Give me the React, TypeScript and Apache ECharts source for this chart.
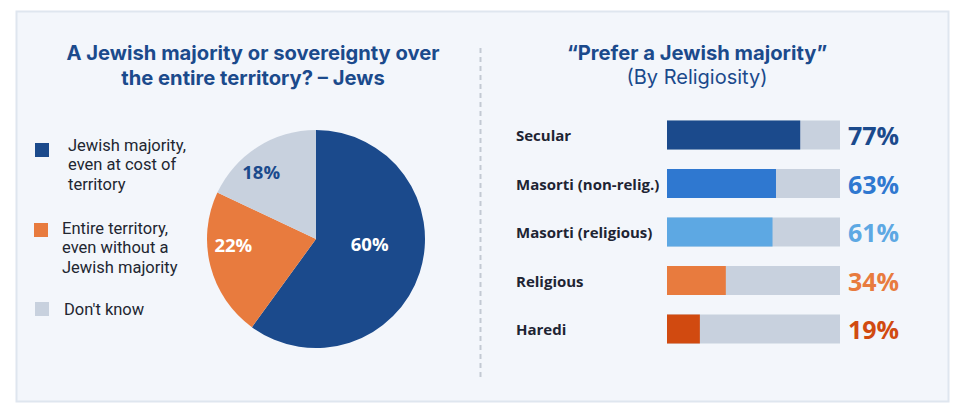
import React, { useEffect, useRef } from "react";
import * as echarts from "echarts";

// ---- data ----
const pieNames = [
  "Jewish majority, even at cost of territory",
  "Entire territory, even without a Jewish majority",
  "Don't know",
];
const pieLegendLines = [
  ["Jewish majority,", "even at cost of", "territory"],
  ["Entire territory,", "even without a", "Jewish majority"],
  ["Don't know"],
];
const pieValues = [60, 22, 18];
const pieColors = ["#1b4a8c", "#e87b3e", "#c8d1de"];
const pieLabelColors = ["#ffffff", "#ffffff", "#1b4a8c"];

const religiosity = [
  "Secular",
  "Masorti (non-relig.)",
  "Masorti (religious)",
  "Religious",
  "Haredi",
];
const preferMajority = [77, 63, 61, 34, 19];
const barColors = ["#1b4a8c", "#2f78d0", "#5da8e3", "#e87b3e", "#d14a10"];
const fullScale = 100;

const FONT = "'Open Sans', Roboto, sans-serif";
const TITLE_FONT = "Inter, 'Open Sans', sans-serif";
const LEGEND_FONT = "Roboto, 'Open Sans', sans-serif";
const TITLE_COLOR = "#1b4a8c";

export default function App() {
  const ref = useRef<HTMLDivElement>(null);

  useEffect(() => {
    if (!ref.current) return;
    const chart = echarts.init(ref.current, undefined, { renderer: "svg" });

    const lh = 19.8;
    const legendSpecs = [
      { left: 35, gap: 2 * lh - 10, padLeft: 14 },
      { left: 34, gap: 2 * lh - 4, padLeft: 9 },
      { left: 35, gap: 0, padLeft: 10 },
    ];
    const iconTops = [143, 223, 302];
    const legends = pieNames.map((name, i) => {
      const spec = legendSpecs[i];
      const lines = pieLegendLines[i];
      const boxH = spec.gap + lines.length * lh;
      const boundTop = Math.min(0, 7 - boxH / 2);
      const body = lines.map((l) => `{t|${l}}`).join("\n");
      return {
        data: [name],
        left: spec.left,
        top: iconTops[i] + boundTop,
        padding: 0,
        orient: "vertical",
        icon: "rect",
        itemWidth: 14,
        itemHeight: 14,
        selectedMode: false,
        formatter: () => (spec.gap > 0 ? `{g| }\n${body}` : body),
        textStyle: {
          fontFamily: LEGEND_FONT,
          fontSize: 16.5,
          color: "#222631",
          lineHeight: lh,
          padding: [0, 0, 0, spec.padLeft],
          rich: {
            g: { fontSize: 4, lineHeight: Math.max(spec.gap, 1) },
            t: {
              fontFamily: LEGEND_FONT,
              fontSize: 16.5,
              color: "#222631",
              lineHeight: lh,
            },
          },
        },
      };
    });

    const labelNudges = [
      { dx: -1, dy: -13 },
      { dx: -27, dy: -9 },
      { dx: -24, dy: -19 },
    ];

    chart.setOption({
      animation: false,
      backgroundColor: "#ffffff",
      textStyle: { fontFamily: FONT },
      graphic: [
        {
          type: "rect",
          shape: { x: 16.5, y: 11.5, width: 932, height: 390 },
          style: { fill: "#f3f6fb", stroke: "#dfe6ef", lineWidth: 2 },
          z: -10,
          silent: true,
        },
        {
          type: "line",
          shape: { x1: 480.5, y1: 48, x2: 480.5, y2: 378 },
          style: { stroke: "#c3c9d3", lineWidth: 2, lineDash: [5, 4] },
          z: -5,
          silent: true,
        },
      ],
      title: [
        {
          text: "A Jewish majority or sovereignty over\nthe entire territory? – Jews",
          left: 253,
          top: 39.5,
          padding: 0,
          textAlign: "center",
          textStyle: {
            fontFamily: TITLE_FONT,
            fontSize: 20.2,
            fontWeight: "bold",
            color: TITLE_COLOR,
            lineHeight: 25,
          },
        },
        {
          text: "“Prefer a Jewish majority”",
          subtext: "(By Religiosity)",
          left: 697,
          top: 39.5,
          padding: 0,
          itemGap: 0,
          textAlign: "center",
          textStyle: {
            fontFamily: TITLE_FONT,
            fontSize: 20.2,
            fontWeight: "bold",
            color: TITLE_COLOR,
            lineHeight: 25,
          },
          subtextStyle: {
            fontFamily: TITLE_FONT,
            fontSize: 20,
            fontWeight: "normal",
            color: TITLE_COLOR,
            lineHeight: 25,
          },
        },
      ],
      legend: legends,
      grid: {
        left: 667,
        top: 110.75,
        width: 173,
        height: 242.5,
        containLabel: false,
      },
      xAxis: {
        type: "value",
        min: 0,
        max: fullScale,
        show: false,
      },
      yAxis: {
        type: "category",
        data: religiosity,
        inverse: true,
        axisLine: { show: false },
        axisTick: { show: false },
        splitLine: { show: false },
        axisLabel: {
          align: "left",
          margin: 151,
          fontFamily: FONT,
          fontSize: 15,
          fontWeight: "bold",
          color: "#1e2433",
        },
      },
      series: [
        {
          type: "pie",
          center: [316, 239],
          radius: 109,
          startAngle: 90,
          clockwise: true,
          silent: true,
          data: pieNames.map((name, i) => ({
            name,
            value: pieValues[i],
            itemStyle: { color: pieColors[i] },
            label: { color: pieLabelColors[i] },
          })),
          label: {
            show: true,
            position: "inside",
            formatter: (p: any) => `${p.value}%`,
            fontFamily: FONT,
            fontSize: 18.5,
            fontWeight: "bold",
          },
          labelLine: { show: false },
          labelLayout: (p: any) => labelNudges[p.dataIndex],
        },
        {
          type: "bar",
          barWidth: 29,
          barGap: "-100%",
          silent: true,
          data: religiosity.map((_, i) => ({
            value: fullScale,
            label: { color: barColors[i] },
          })),
          itemStyle: { color: "#c8d1de" },
          label: {
            show: true,
            position: "right",
            distance: 8,
            formatter: (p: any) => `${preferMajority[p.dataIndex]}%`,
            fontFamily: FONT,
            fontSize: 25,
            fontWeight: "bold",
          },
        },
        {
          type: "bar",
          barWidth: 29,
          barGap: "-100%",
          silent: true,
          data: preferMajority.map((v, i) => ({
            value: v,
            itemStyle: { color: barColors[i] },
          })),
        },
      ],
    });

    return () => chart.dispose();
  }, []);

  return (
    <div
      ref={ref}
      style={{ position: "absolute", left: 0, top: 0, width: 953, height: 417 }}
    />
  );
}
